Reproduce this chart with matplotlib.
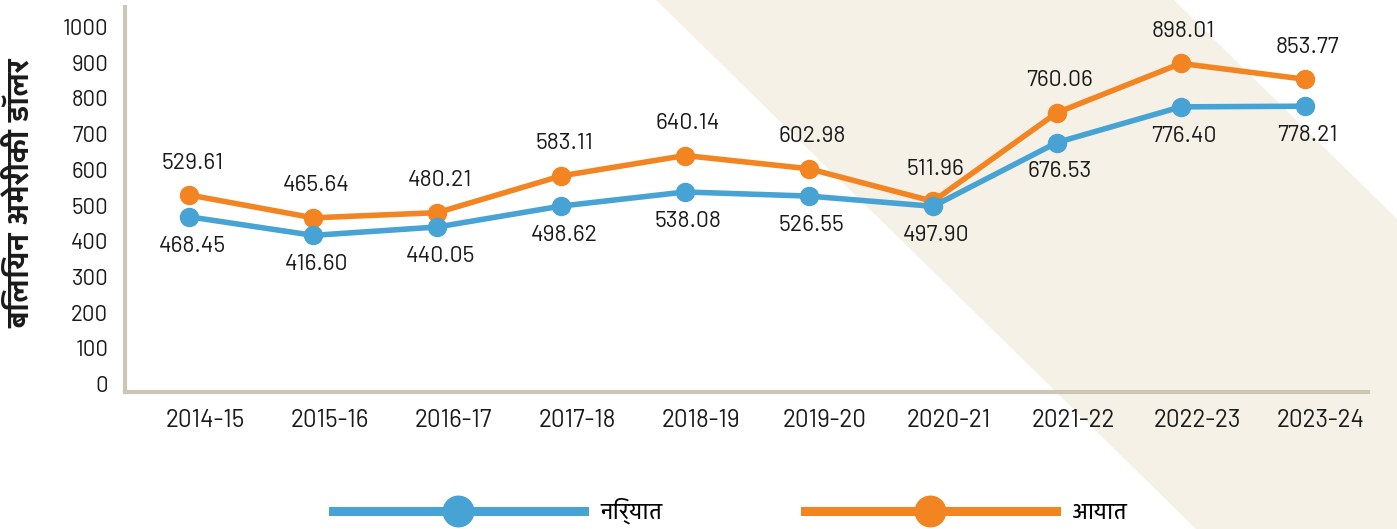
import matplotlib
matplotlib.use('Agg')
import matplotlib.pyplot as plt
from matplotlib import font_manager as fm
from matplotlib.lines import Line2D
from matplotlib.patches import Polygon
from matplotlib.transforms import ScaledTranslation

# data (billion US dollars)
years = ['2014-15', '2015-16', '2016-17', '2017-18', '2018-19',
         '2019-20', '2020-21', '2021-22', '2022-23', '2023-24']
exports = [468.45, 416.60, 440.05, 498.62, 538.08, 526.55, 497.90, 676.53, 776.40, 778.21]
imports = [529.61, 465.64, 480.21, 583.11, 640.14, 602.98, 511.96, 760.06, 898.01, 853.77]
yticks = [0, 100, 200, 300, 400, 500, 600, 700, 800, 900, 1000]

ylabel = 'बिलियन अमेरीकी डॉलर'
lbl_exp = 'निर्यात'
lbl_imp = 'आयात'

blue = '#47A3D3'
orange = '#F28522'
spine_c = '#CBC6B6'
band_c = '#F5F1E7'
txt_c = '#1a1a1a'

# pick fonts that are actually installed
have = set(f.name for f in fm.fontManager.ttflist)
def pick(cands):
    for c in cands:
        if c in have:
            return c
    return 'DejaVu Sans'

num_font = pick(['Barlow', 'Barlow Semi Condensed', 'Barlow Condensed', 'Roboto Condensed',
                 'Archivo Narrow', 'Liberation Sans Narrow', 'Roboto'])
hin_font = pick(['Yantramanav', 'Mukta', 'Hind', 'Noto Sans Devanagari', 'Khand'])
plt.rcParams['font.family'] = [num_font, hin_font, 'DejaVu Sans']

W, H = 1397, 529
fig = plt.figure(figsize=(W / 100, H / 100), dpi=100, facecolor='white')

# diagonal beige band in the background (pixel coords, top origin)
band_px = [(656, 0), (1174, 0), (1397, 219), (1397, 529), (1196, 529)]
band = Polygon([(x / W, 1 - y / H) for x, y in band_px], closed=True,
               transform=fig.transFigure, facecolor=band_c, edgecolor='none', zorder=-5)
fig.patches.append(band)

ax = fig.add_axes([125 / W, 1 - 392 / H, (1368 - 125) / W, (392 - 7) / H])
ax.set_facecolor('none')

x = list(range(len(years)))
ax.plot(x, imports, '-o', color=orange, lw=4, ms=13, zorder=3)
ax.plot(x, exports, '-o', color=blue, lw=4, ms=13, zorder=4)

for xi, v in zip(x, imports):
    ax.annotate('%.2f' % v, (xi, v), xytext=(2, 23), textcoords='offset points',
                ha='center', va='center', fontsize=16.5, color=txt_c)
for xi, v in zip(x, exports):
    ax.annotate('%.2f' % v, (xi, v), xytext=(2, -21), textcoords='offset points',
                ha='center', va='center', fontsize=16.5, color=txt_c)

ax.set_xlim(-0.52, 9.51)
ax.set_ylim(-22, 1056)
ax.set_xticks(x)
ax.set_xticklabels(years)
ax.set_yticks(yticks)
ax.tick_params(axis='both', length=0, colors=txt_c)
ax.tick_params(axis='x', pad=12, labelsize=17.5)
ax.tick_params(axis='y', pad=12, labelsize=16)
# year labels sit a little right of the points
shift = ScaledTranslation(16 / 100, 0, fig.dpi_scale_trans)
for lab in ax.get_xticklabels():
    lab.set_transform(lab.get_transform() + shift)

for s in ['top', 'right']:
    ax.spines[s].set_visible(False)
for s in ['left', 'bottom']:
    ax.spines[s].set_color(spine_c)
    ax.spines[s].set_linewidth(3)

fig.text(20 / W, 1 - 193 / H, ylabel, rotation=90, ha='center', va='center',
         fontsize=22, fontweight='bold', color=txt_c,
         family=[hin_font, 'DejaVu Sans'])

handles = [Line2D([], [], color=blue, lw=6.5, marker='o', ms=22),
           Line2D([], [], color=orange, lw=6.5, marker='o', ms=22)]
fig.legend(handles, [lbl_exp, lbl_imp], loc='center', bbox_to_anchor=(0.523, 0.034),
           ncol=2, frameon=False, handlelength=10.6, handletextpad=0.7,
           columnspacing=6.05, prop={'family': [hin_font, 'DejaVu Sans'], 'size': 17})

fig.savefig('out.png', dpi=100, facecolor='white')
